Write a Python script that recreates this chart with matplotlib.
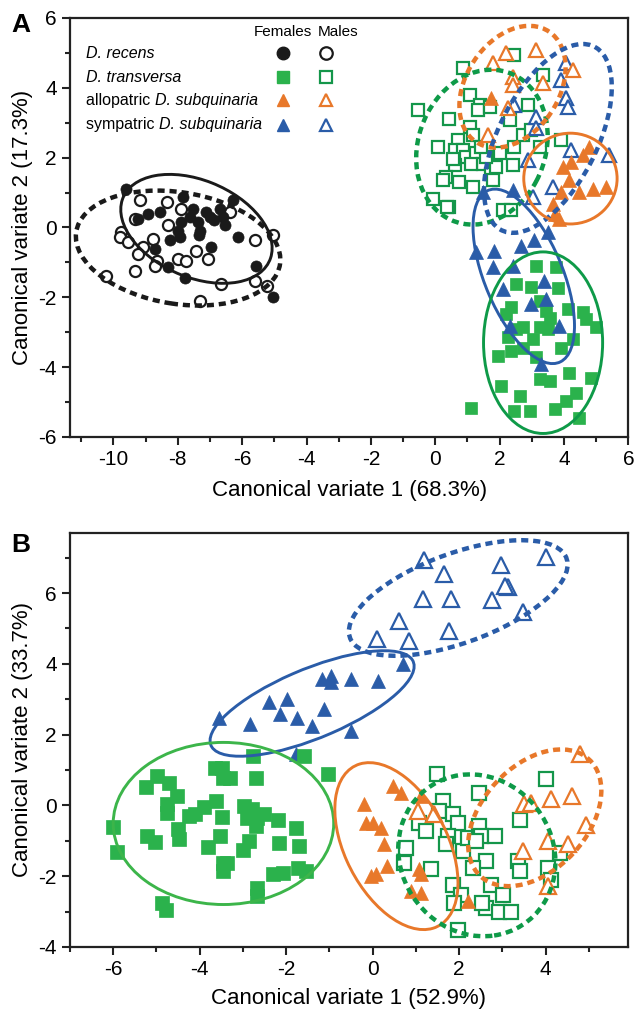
import matplotlib
matplotlib.use("Agg")
import matplotlib.pyplot as plt
from matplotlib.patches import Ellipse
from matplotlib.ticker import MultipleLocator
import numpy as np

plt.rcParams['font.family'] = ['Liberation Sans', 'DejaVu Sans']
plt.rcParams['axes.unicode_minus'] = False

# ---------------- panel A data ----------------
a_rec_f_x = [-9.60, -7.84, -6.29, -6.70, -7.53, -8.56, -8.93, -9.24, -7.01, -6.60, -7.38, -7.89, -6.54, -7.30,
             -7.99, -7.35, -7.94, -8.25, -6.13, -6.96, -8.72, -5.56, -8.29, -7.79, -5.04, -7.11, -6.86, -7.61]
a_rec_f_y = [1.11, 0.87, 0.78, 0.54, 0.54, 0.44, 0.39, 0.25, 0.30, 0.30, 0.15, 0.15, 0.06, -0.09,
             -0.09, -0.23, -0.28, -0.35, -0.28, -0.57, -0.61, -1.09, -1.14, -1.45, -2.00, 0.44, 0.20, 0.30]
a_rec_m_x = [-9.18, -8.35, -7.89, -9.34, -8.30, -6.39, -9.75, -9.80, -9.55, -8.77, -9.08, -9.24, -9.34,
             -8.66, -8.72, -7.99, -7.73, -7.42, -7.06, -5.61, -5.04, -10.22, -6.65, -5.61, -5.23, -7.30]
a_rec_m_y = [0.78, 0.73, 0.54, 0.25, 0.06, 0.44, -0.13, -0.28, -0.42, -0.32, -0.57, -0.76, -1.24,
             -0.95, -1.09, -0.90, -0.95, -0.66, -0.90, -0.37, -0.23, -1.38, -1.62, -1.52, -1.67, -2.10]

a_tra_m_x = [-0.54, 0.86, 0.44, 2.46, 3.34, 2.88, 1.07, 1.38, 1.32, 1.69, 1.07, 0.08, 0.70, 0.60, 0.86, 0.96,
             1.27, 1.48, 1.12, 0.60, 0.34, 0.24, 0.75, 1.17, 1.74, 1.89, 1.79, 2.41, 2.46, 2.72, 2.98, 3.24,
             3.91, -0.07, 0.44, 2.10, 2.36, 1.17, 1.58, 0.55, 2.00, 1.43, 2.31, 0.38]
a_tra_m_y = [3.36, 4.56, 3.12, 4.94, 4.37, 3.51, 3.79, 3.51, 3.36, 3.46, 2.88, 2.31, 2.50, 2.21, 2.21, 2.02,
             2.12, 1.83, 1.83, 1.78, 1.45, 1.35, 1.30, 1.16, 1.54, 1.73, 1.35, 1.78, 2.31, 2.64, 2.79, 2.31,
             2.50, 0.82, 0.58, 0.49, 0.49, 2.64, 2.02, 1.97, 2.12, 2.31, 3.07, 0.58]
a_tra_f_x = [3.14, 3.76, 2.52, 2.98, 3.81, 2.36, 2.20, 3.24, 3.55, 4.12, 4.58, 4.69, 5.00, 2.72, 3.24, 3.50,
             2.25, 3.03, 4.27, 3.91, 2.72, 2.36, 1.94, 3.14, 4.17, 4.85, 3.24, 3.55, 2.05, 2.62, 4.38, 4.07,
             2.46, 2.93, 3.71, 4.48, 1.12, 2.52, 3.45]
a_tra_f_y = [-1.09, -1.14, -1.62, -1.71, -1.73, -2.29, -2.48, -2.10, -2.58, -2.34, -2.43, -2.62, -2.86, -2.86,
             -2.86, -2.91, -3.15, -3.20, -3.20, -3.44, -3.44, -3.53, -3.68, -3.72, -4.16, -4.30, -4.35, -4.40,
             -4.54, -4.83, -4.73, -4.97, -5.26, -5.26, -5.20, -5.45, -5.16, -2.91, -2.39]

a_sym_f_x = [1.27, 1.84, 2.67, 3.08, 3.50, 1.79, 2.41, 2.10, 3.39, 2.98, 3.45, 2.31, 3.86, 3.29, 1.48, 2.41]
a_sym_f_y = [-0.71, -0.66, -0.52, -0.37, -0.14, -1.14, -1.09, -1.76, -1.52, -2.19, -2.05, -2.82, -2.82, -3.92,
             1.01, 1.06]
a_sym_m_x = [4.07, 3.91, 4.07, 4.12, 2.46, 3.14, 3.14, 4.22, 5.41, 2.88, 3.65, 3.03]
a_sym_m_y = [4.70, 4.22, 3.70, 3.46, 3.51, 3.17, 2.84, 2.21, 2.07, 1.93, 1.16, 0.87]

a_allo_m_x = [2.20, 3.14, 1.79, 4.27, 2.41, 3.34, 2.41, 2.25, 1.63]
a_allo_m_y = [4.99, 5.09, 4.70, 4.51, 4.32, 4.13, 4.08, 3.41, 2.64]
a_allo_f_x = [4.79, 4.22, 4.58, 3.96, 4.17, 3.91, 4.48, 4.89, 5.31, 3.65, 3.71, 3.86, 1.74]
a_allo_f_y = [2.31, 1.88, 2.07, 1.73, 1.35, 1.01, 1.01, 1.11, 1.16, 0.68, 0.39, 0.25, 3.70]

# ---------------- panel B data ----------------
b_sym_m_x = [1.18, 1.66, 2.97, 4.02, 3.13, 3.05, 1.16, 1.81, 2.76, 3.48, 0.61, 1.77, 0.11, 0.84]
b_sym_m_y = [6.92, 6.54, 6.78, 7.02, 6.17, 6.21, 5.84, 5.84, 5.79, 5.46, 5.22, 4.94, 4.70, 4.65]
b_sym_f_x = [0.71, -0.97, -1.16, -0.97, -0.51, 0.13, -2.40, -1.98, -2.15, -1.76, -1.13, -3.56, -2.83, -1.40,
             -0.49, -1.78]
b_sym_f_y = [3.99, 3.66, 3.57, 3.48, 3.57, 3.52, 2.91, 3.00, 2.58, 2.48, 2.72, 2.48, 2.29, 2.25, 2.10, 1.44]

b_tra_f_x = [-6.00, -5.92, -5.21, -5.03, -4.99, -5.24, -4.70, -4.52, -4.76, -4.75, -4.24, -3.91, -3.62, -4.49,
             -4.47, -3.80, -3.54, -3.49, -3.64, -3.48, -3.45, -3.30, -3.45, -3.37, -3.45, -2.97, -2.79, -2.91,
             -2.68, -2.51, -2.70, -2.87, -2.99, -2.77, -2.70, -2.18, -1.78, -2.16, -1.70, -2.30, -2.07, -1.73,
             -1.55, -2.67, -2.68, -4.88, -4.78, -1.58, -1.04, -4.10]
b_tra_f_y = [-0.60, -1.31, -0.87, -1.03, 0.83, 0.53, 0.64, 0.26, 0.03, -0.21, -0.30, -0.04, 0.13, -0.68,
             -0.94, -1.17, -0.87, -0.32, 1.07, 1.07, 0.78, 0.78, -1.62, -1.62, -1.86, -0.02, -0.11, -0.35,
             -0.35, -0.25, -0.59, -1.01, -1.25, 1.40, 0.78, -0.40, -0.64, -1.05, -1.15, -1.95, -1.91, -1.77,
             -1.86, -2.33, -2.57, -2.76, -2.95, 1.40, 0.88, -0.25]
b_tra_m_x = [1.50, 4.02, 2.47, 1.62, 1.54, 1.85, 1.97, 1.08, 1.23, 1.74, 1.70, 2.08, 2.20, 2.47, 2.51, 2.82,
             0.77, 0.73, 1.35, 2.62, 2.32, 1.85, 2.04, 1.89, 2.74, 3.01, 2.62, 2.93, 3.20, 3.36, 3.40, 3.40,
             4.06, 4.13, 4.33, 1.97, 2.40, 2.54]
b_tra_m_y = [0.88, 0.74, 0.36, 0.12, -0.16, -0.25, -0.49, -0.49, -0.73, -0.87, -1.10, -1.29, -0.92, -0.58,
             -0.87, -0.87, -1.20, -1.62, -1.81, -1.58, -1.76, -2.24, -2.52, -2.76, -2.24, -2.52, -2.90, -3.00,
             -3.00, -1.58, -1.86, -0.40, -1.76, -2.10, -1.34, -3.51, -1.01, -2.76]

b_allo_f_x = [0.46, 0.65, 1.12, -0.20, -0.16, 0.00, 0.19, 0.26, 0.34, -0.04, 0.07, 1.08, 1.12, 0.88, 1.12, 2.20]
b_allo_f_y = [0.55, 0.36, 0.26, 0.03, -0.49, -0.49, -0.63, -1.10, -1.72, -2.00, -1.95, -1.81, -1.95, -2.43,
              -2.47, -2.71]
b_allo_m_x = [4.79, 3.51, 3.67, 4.13, 4.60, 1.42, 1.04, 4.94, 4.06, 4.52, 3.47, 4.06]
b_allo_m_y = [1.44, 0.03, 0.08, 0.17, 0.26, -0.25, -0.16, -0.54, -1.01, -1.10, -1.29, -2.29]

green_f = '#2bb24c'
green_m = '#14964a'
green_line = '#0e9a48'
green_line_b = '#3cb54a'
orange = '#e8782a'
blue = '#2a5ca8'
black = '#1a1a1a'

fig = plt.figure(figsize=(6.36, 10.15), dpi=100)
axA = fig.add_axes([0.110, 0.5695, 0.878, 0.4128])
axB = fig.add_axes([0.110, 0.067, 0.877, 0.408])


def filled(ax, x, y, m, c, ms):
    ax.plot(x, y, ls='none', marker=m, ms=ms, mfc=c, mec=c, mew=0.5, zorder=3)


def hollow(ax, x, y, m, c, ms):
    ax.plot(x, y, ls='none', marker=m, ms=ms, mfc='white', mec=c, mew=1.6, zorder=3)


def ell(ax, xy, w, h, ang, c, dashed=False):
    if dashed:
        e = Ellipse(xy, w, h, angle=ang, fill=False, ec=c, lw=3.2, ls=(0, (1.6, 1.1)), zorder=4)
    else:
        e = Ellipse(xy, w, h, angle=ang, fill=False, ec=c, lw=2.1, zorder=4)
    ax.add_patch(e)


# panel A
hollow(axA, a_rec_m_x, a_rec_m_y, 'o', black, 8)
filled(axA, a_rec_f_x, a_rec_f_y, 'o', black, 8)
hollow(axA, a_tra_m_x, a_tra_m_y, 's', green_m, 8.5)
filled(axA, a_tra_f_x, a_tra_f_y, 's', green_f, 8.5)
hollow(axA, a_sym_m_x, a_sym_m_y, '^', blue, 10)
hollow(axA, a_allo_m_x, a_allo_m_y, '^', orange, 10)
filled(axA, a_sym_f_x, a_sym_f_y, '^', blue, 10)
filled(axA, a_allo_f_x, a_allo_f_y, '^', orange, 10)

ell(axA, (-7.42, -0.04), 4.9, 2.8, -20, black)
ell(axA, (-7.99, -0.59), 6.4, 3.2, -8, black, dashed=True)
ell(axA, (1.45, 2.3), 4.6, 3.9, 60, green_line, dashed=True)
ell(axA, (2.4, 4.03), 3.9, 2.8, 50, orange, dashed=True)
ell(axA, (3.5, 2.55), 6.0, 3.0, 60, blue, dashed=True)
ell(axA, (4.2, 1.4), 2.9, 2.6, 0, orange)
ell(axA, (2.75, -1.4), 5.4, 2.4, -65, blue)
ell(axA, (3.35, -3.3), 3.7, 5.2, 0, green_line)

axA.set_xlim(-11.35, 6)
axA.set_ylim(-6, 6)
axA.xaxis.set_major_locator(MultipleLocator(2))
axA.xaxis.set_minor_locator(MultipleLocator(1))
axA.yaxis.set_major_locator(MultipleLocator(2))
axA.yaxis.set_minor_locator(MultipleLocator(1))
axA.set_xlabel('Canonical variate 1 (68.3%)', fontsize=16, labelpad=8)
axA.set_ylabel('Canonical variate 2 (17.3%)', fontsize=16, labelpad=4)

# legend drawn by hand
rows_y = [0.916, 0.859, 0.804, 0.745]
plain = ['', '', 'allopatric ', 'sympatric ']
ital = ['D. recens', 'D. transversa', 'D. subquinaria', 'D. subquinaria']
marks = ['o', 's', '^', '^']
cols = [black, green_f, orange, blue]
cols_m = [black, green_m, orange, blue]
axA.text(0.381, 0.966, 'Females', transform=axA.transAxes, ha='center', va='center', fontsize=11)
axA.text(0.480, 0.966, 'Males', transform=axA.transAxes, ha='center', va='center', fontsize=11)
for ry, p, it, mk, c, cm in zip(rows_y, plain, ital, marks, cols, cols_m):
    if p:
        t1 = axA.text(0.0286, ry, p, transform=axA.transAxes, ha='left', va='center', fontsize=11.5)
        axA.annotate(it, xy=(1, 0), xycoords=t1, ha='left', va='bottom', fontsize=11.5, style='italic')
    else:
        axA.text(0.0286, ry, it, transform=axA.transAxes, ha='left', va='center', fontsize=11.5,
                 style='italic')
    axA.plot([0.381], [ry], transform=axA.transAxes, marker=mk, ms=9, mfc=c, mec=c, ls='none')
    axA.plot([0.458], [ry], transform=axA.transAxes, marker=mk, ms=9, mfc='white', mec=cm,
             mew=1.6, ls='none')

# panel B
hollow(axB, b_sym_m_x, b_sym_m_y, '^', blue, 11)
filled(axB, b_sym_f_x, b_sym_f_y, '^', blue, 10.5)
filled(axB, b_tra_f_x, b_tra_f_y, 's', green_f, 9.5)
hollow(axB, b_tra_m_x, b_tra_m_y, 's', green_m, 9.5)
filled(axB, b_allo_f_x, b_allo_f_y, '^', orange, 10.5)
hollow(axB, b_allo_m_x, b_allo_m_y, '^', orange, 11)

ell(axB, (-1.4, 2.88), 5.25, 1.9, 28, blue)
ell(axB, (1.98, 5.86), 5.5, 2.45, 26, blue, dashed=True)
ell(axB, (-3.45, -0.51), 5.1, 4.58, 0, green_line_b)
ell(axB, (0.55, -1.15), 4.94, 2.44, -70, orange)
ell(axB, (2.41, -1.41), 3.6, 4.6, 10, green_line, dashed=True)
ell(axB, (3.75, -0.35), 4.2, 2.6, 60, orange, dashed=True)

axB.set_xlim(-7, 5.9)
axB.set_ylim(-4, 7.7)
axB.xaxis.set_major_locator(MultipleLocator(2))
axB.xaxis.set_minor_locator(MultipleLocator(1))
axB.yaxis.set_major_locator(MultipleLocator(2))
axB.yaxis.set_minor_locator(MultipleLocator(1))
axB.set_xlabel('Canonical variate 1 (52.9%)', fontsize=16, labelpad=6)
axB.set_ylabel('Canonical variate 2 (33.7%)', fontsize=16, labelpad=4)

for ax in (axA, axB):
    for s in ax.spines.values():
        s.set_linewidth(1.6)
        s.set_color('#222222')
    ax.tick_params(which='major', direction='out', length=6, width=1.5, labelsize=15, color='#222222')
    ax.tick_params(which='minor', direction='out', length=3.5, width=1.5, color='#222222')

fig.text(0.018, 0.975, 'A', fontsize=19, fontweight='bold', ha='left', va='center')
fig.text(0.018, 0.463, 'B', fontsize=19, fontweight='bold', ha='left', va='center')

fig.savefig('out.png', dpi=100)
